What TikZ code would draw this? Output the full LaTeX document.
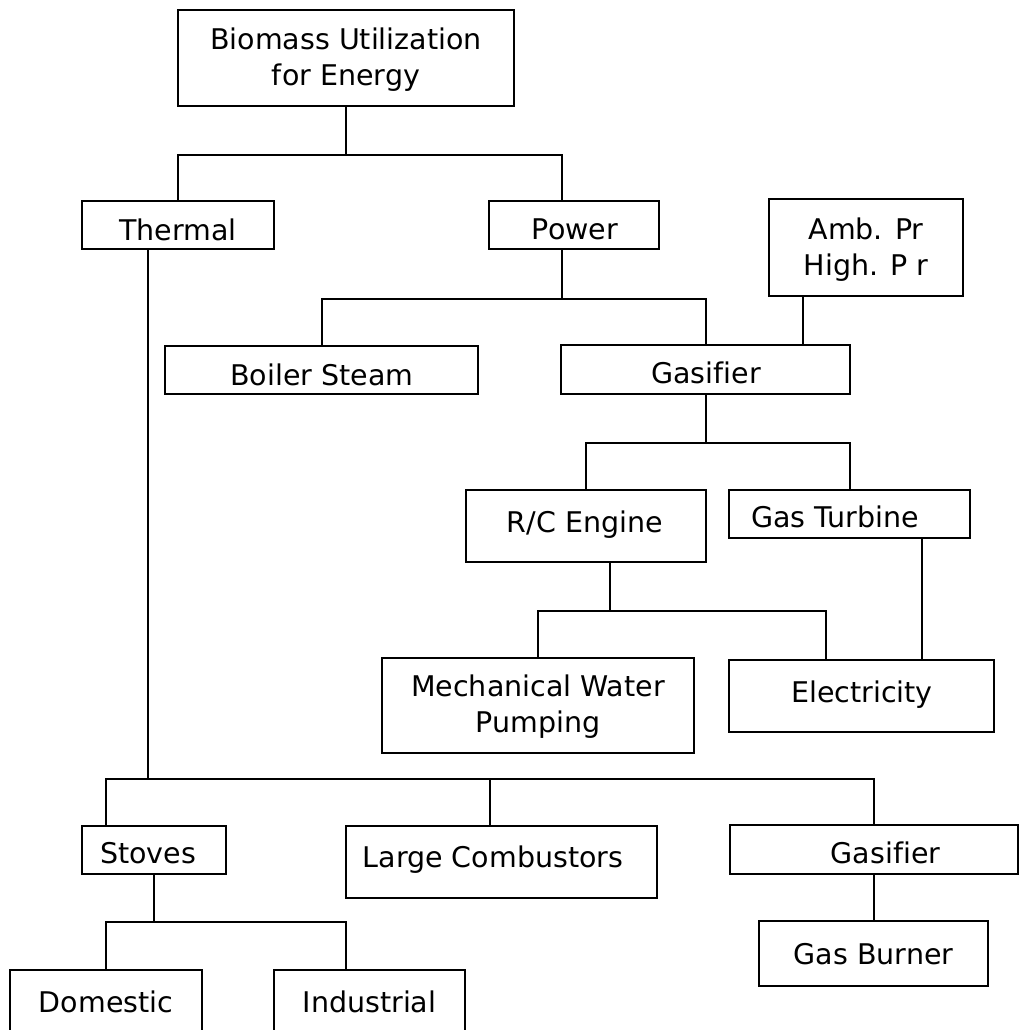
\documentclass[tikz,border=0pt]{standalone}
\usepackage{fontspec}
\setmainfont[Ligatures=NoCommon]{DejaVu Sans}
\begin{document}
\begin{tikzpicture}[x=1pt,y=-1pt,
  box/.style={draw, line width=2pt, inner sep=0pt},
  lbl/.style={font=\fontsize{28.5}{36}\selectfont, inner sep=0pt, align=center},
  conn/.style={line width=2pt}]
\useasboundingbox[fill=white] (0,0) rectangle (1031,1029);
\begin{scope}
\clip (0,0) rectangle (1031,1029);
% boxes
\node[box, minimum width=336pt, minimum height=96pt] (top) at (346,58) {};
\node[box, minimum width=192pt, minimum height=48pt] (thermal) at (178,225) {};
\node[box, minimum width=170pt, minimum height=48pt] (power) at (574,225) {};
\node[box, minimum width=194pt, minimum height=97pt] (amb) at (866,247.5) {};
\node[box, minimum width=313pt, minimum height=48pt] (boiler) at (321.5,370) {};
\node[box, minimum width=289pt, minimum height=49pt] (gasifier) at (705.5,369.5) {};
\node[box, minimum width=240pt, minimum height=72pt] (rc) at (586,526) {};
\node[box, minimum width=241pt, minimum height=48pt] (gt) at (849.5,514) {};
\node[box, minimum width=312pt, minimum height=95pt] (mech) at (538,705.5) {};
\node[box, minimum width=265pt, minimum height=72pt] (elec) at (861.5,696) {};
\node[box, minimum width=144pt, minimum height=48pt] (stoves) at (154,850) {};
\node[box, minimum width=311pt, minimum height=72pt] (large) at (501.5,862) {};
\node[box, minimum width=288pt, minimum height=49pt] (gas2) at (874,849.5) {};
\node[box, minimum width=229pt, minimum height=65pt] (burner) at (873.5,953.5) {};
\node[box, minimum width=192pt, minimum height=120pt] (domestic) at (106,1030) {};
\node[box, minimum width=191pt, minimum height=120pt] (industrial) at (369.5,1030) {};
% labels
\node[lbl, anchor=center] (tTop) at (346,59.8) {\strut Biomass Utilization\\\strut for Energy};
\node[lbl, anchor=base] (tThermal) at (178,240) {Thermal};
\node[lbl, anchor=base] (tPower) at (575,239) {Power};
\node[lbl, anchor=center] (tAmb) at (866,249.8) {\strut Amb. Pr\\\strut High. P r};
\node[lbl, anchor=base] (tBoiler) at (322,385) {Boiler Steam};
\node[lbl, anchor=base] (tGasifier) at (706,383) {Gasifier};
\node[lbl, anchor=base] (tRC) at (585,532) {R/C Engine};
\node[lbl, anchor=base] (tGT) at (835,527) {Gas Turbine};
\node[lbl, anchor=center] (tMech) at (538,706.8) {\strut Mechanical Water\\\strut Pumping};
\node[lbl, anchor=base] (tElec) at (862,702) {Electricity};
\node[lbl, anchor=base] (tStoves) at (148,863) {Stoves};
\node[lbl, anchor=base] (tLarge) at (493,867) {Large Combustors};
\node[lbl, anchor=base] (tGas2) at (885.5,863) {Gasifier};
\node[lbl, anchor=base] (tBurner) at (873.5,964) {Gas Burner};
\node[lbl, anchor=base] (tDom) at (106,1012) {Domestic};
\node[lbl, anchor=base] (tInd) at (369.5,1012) {Industrial};
% connectors
\coordinate (pwT) at ([xshift=-12pt]power.north);
\draw[conn] (top.south) -- ++(0,48) coordinate (b1);
\draw[conn] (thermal.north) |- (pwT |- b1) -- (pwT);
\coordinate (pwB) at ([xshift=-12pt]power.south);
\draw[conn] (pwB) -- ++(0,49) coordinate (b2);
\draw[conn] (boiler.north) |- (gasifier.north |- b2) -- (gasifier.north);
\coordinate (ambB) at ([xshift=-63pt]amb.south);
\draw[conn] (ambB) -- (ambB |- gasifier.north);
\draw[conn] (gasifier.south) -- ++(0,48) coordinate (b3);
\draw[conn] (rc.north) |- (gt.north |- b3) -- (gt.north);
\coordinate (rcB) at ([xshift=24pt]rc.south);
\draw[conn] (rcB) -- ++(0,48) coordinate (b4);
\coordinate (elT) at ([xshift=-35.5pt]elec.north);
\draw[conn] (mech.north) |- (elT |- b4) -- (elT);
\coordinate (gtB) at ([xshift=72.5pt]gt.south);
\draw[conn] (gtB) -- (gtB |- elec.north);
\coordinate (thB) at ([xshift=-30pt]thermal.south);
\draw[conn] (thB) -- ++(0,529) coordinate (b5);
\coordinate (stT) at ([xshift=-48pt]stoves.north);
\coordinate (lcT) at ([xshift=-11.5pt]large.north);
\draw[conn] (stT) |- (gas2.north |- b5) -- (gas2.north);
\draw[conn] (lcT) -- (lcT |- b5);
\draw[conn] (stoves.south) -- ++(0,47) coordinate (b6);
\coordinate (inT) at ([xshift=-23.5pt]industrial.north);
\draw[conn] (domestic.north) |- (inT |- b6) -- (inT);
\draw[conn] (gas2.south) -- (gas2.south |- burner.north);
\end{scope}
\end{tikzpicture}
\end{document}
